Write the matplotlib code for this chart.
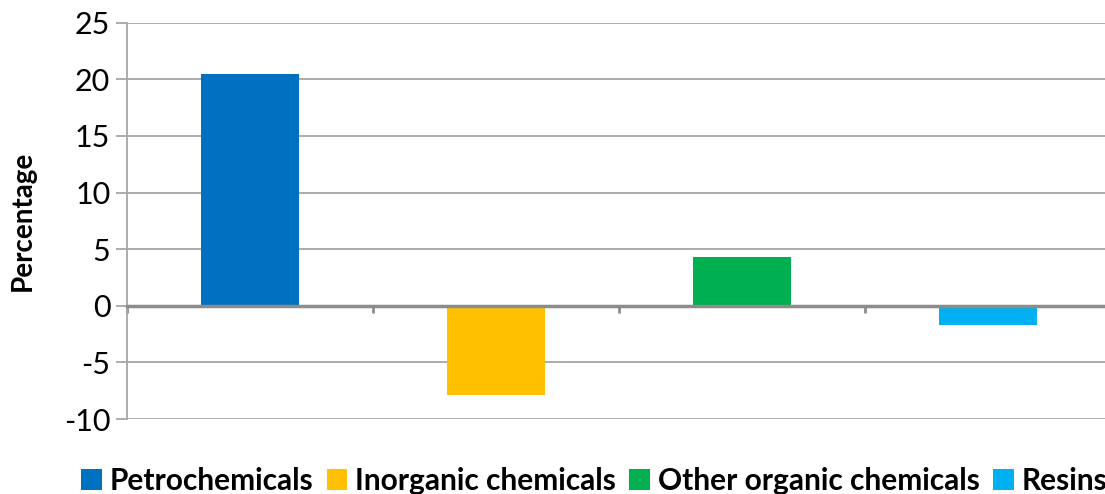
import matplotlib
matplotlib.use("Agg")
import matplotlib.pyplot as plt
from matplotlib.patches import Patch

# data
categories = ["Petrochemicals", "Inorganic chemicals", "Other organic chemicals", "Resins"]
values = [20.5, -7.9, 4.3, -1.7]
colors = ["#0070C0", "#FFC000", "#00B050", "#00B0F0"]
y_ticks = [-10, -5, 0, 5, 10, 15, 20, 25]

plt.rcParams["font.family"] = ["Lato", "DejaVu Sans"]
grid_color = "#A6A6A6"

fig = plt.figure(figsize=(11.05, 4.94), dpi=100)
ax = fig.add_axes([127 / 1105, 1 - 419 / 494, 984 / 1105, (419 - 22.7) / 494])

x = list(range(len(categories)))
ax.bar(x, values, width=0.4, color=colors, zorder=3)

ax.set_xlim(-0.5, len(categories) - 0.5)
ax.set_ylim(-10, 25)
ax.set_yticks(y_ticks)
ax.set_yticklabels([str(t) for t in y_ticks], fontsize=22)
ax.yaxis.grid(True, color=grid_color, linewidth=1.3, zorder=0)
ax.tick_params(axis="y", length=8, width=1.3, color=grid_color, pad=4)

# category axis sits on zero with ticks at the boundaries
ax.spines["bottom"].set_position(("data", 0))
ax.spines["bottom"].set_color("#8C8C8C")
ax.spines["bottom"].set_linewidth(2.5)
ax.spines["bottom"].set_zorder(4)
ax.set_xticks([i - 0.5 for i in x])
ax.set_xticklabels([])
ax.tick_params(axis="x", direction="out", length=5, width=2, color="#8C8C8C")
ax.spines["left"].set_color(grid_color)
ax.spines["left"].set_linewidth(1.3)
ax.spines["top"].set_visible(False)
ax.spines["right"].set_visible(False)

ax.set_ylabel("Percentage", fontsize=20, fontweight="bold", labelpad=20)

handles = [Patch(facecolor=c, edgecolor="none") for c in colors]
fig.legend(handles, categories, loc="center left", bbox_to_anchor=(81 / 1105, 1 - 481 / 494),
           ncol=4, frameon=False, prop={"weight": "bold", "size": 21.5},
           handlelength=0.7, handleheight=0.7, handletextpad=0.25, columnspacing=0.45,
           borderpad=0, borderaxespad=0)

fig.savefig("out.png", dpi=100)
